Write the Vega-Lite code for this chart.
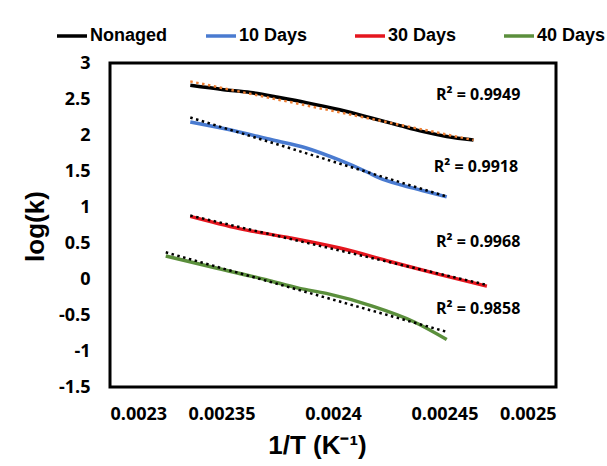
{
  "$schema": "https://vega.github.io/schema/vega-lite/v6.json",
  "width": 446,
  "height": 324,
  "autosize": {"type": "none"},
  "padding": {"left": 110, "top": 63, "right": 51, "bottom": 79},
  "background": "white",
  "config": {
    "view": {"stroke": "#000000", "strokeWidth": 3},
    "axis": {
      "grid": false,
      "ticks": false,
      "domain": false,
      "labelOverlap": false,
      "labelFont": "Open Sans",
      "labelFontWeight": "bold",
      "labelFontSize": 18,
      "labelColor": "#000000",
      "titleFont": "Liberation Sans",
      "titleFontWeight": "bold",
      "titleFontSize": 26,
      "titleColor": "#000000"
    }
  },
  "datasets": {
    "series": [
      {"series": "Nonaged", "x": 0.002336, "y": 2.69},
      {"series": "Nonaged", "x": 0.002351, "y": 2.63},
      {"series": "Nonaged", "x": 0.002363, "y": 2.59},
      {"series": "Nonaged", "x": 0.002376, "y": 2.52},
      {"series": "Nonaged", "x": 0.002388, "y": 2.45},
      {"series": "Nonaged", "x": 0.002403, "y": 2.35},
      {"series": "Nonaged", "x": 0.002418, "y": 2.23},
      {"series": "Nonaged", "x": 0.00243, "y": 2.13},
      {"series": "Nonaged", "x": 0.00244, "y": 2.05},
      {"series": "Nonaged", "x": 0.002451, "y": 1.98},
      {"series": "Nonaged", "x": 0.002463, "y": 1.93},
      {"series": "10 Days", "x": 0.002336, "y": 2.18},
      {"series": "10 Days", "x": 0.002351, "y": 2.09},
      {"series": "10 Days", "x": 0.002373, "y": 1.93},
      {"series": "10 Days", "x": 0.002388, "y": 1.82},
      {"series": "10 Days", "x": 0.002403, "y": 1.65},
      {"series": "10 Days", "x": 0.002415, "y": 1.49},
      {"series": "10 Days", "x": 0.002421, "y": 1.4},
      {"series": "10 Days", "x": 0.00243, "y": 1.31},
      {"series": "10 Days", "x": 0.00244, "y": 1.23},
      {"series": "10 Days", "x": 0.002451, "y": 1.14},
      {"series": "30 Days", "x": 0.002336, "y": 0.87},
      {"series": "30 Days", "x": 0.002358, "y": 0.7},
      {"series": "30 Days", "x": 0.002381, "y": 0.57},
      {"series": "30 Days", "x": 0.002403, "y": 0.43},
      {"series": "30 Days", "x": 0.002426, "y": 0.24},
      {"series": "30 Days", "x": 0.002448, "y": 0.06},
      {"series": "30 Days", "x": 0.002469, "y": -0.1},
      {"series": "40 Days", "x": 0.002325, "y": 0.32},
      {"series": "40 Days", "x": 0.002348, "y": 0.15},
      {"series": "40 Days", "x": 0.00237, "y": -0.01},
      {"series": "40 Days", "x": 0.002385, "y": -0.13},
      {"series": "40 Days", "x": 0.002397, "y": -0.2},
      {"series": "40 Days", "x": 0.002418, "y": -0.38},
      {"series": "40 Days", "x": 0.002436, "y": -0.59},
      {"series": "40 Days", "x": 0.002451, "y": -0.84}
    ],
    "labels": [
      {"label": "R² = 0.9949", "x": 0.002484, "y": 2.56},
      {"label": "R² = 0.9918", "x": 0.002483, "y": 1.56},
      {"label": "R² = 0.9968", "x": 0.002484, "y": 0.52},
      {"label": "R² = 0.9858", "x": 0.002484, "y": -0.42}
    ]
  },
  "layer": [
    {
      "data": {"name": "series"},
      "mark": {"type": "line", "strokeWidth": 3.5, "interpolate": "monotone"},
      "encoding": {
        "x": {
          "field": "x",
          "type": "quantitative",
          "scale": {"domain": [0.0023, 0.0025], "nice": false, "zero": false},
          "axis": {
            "values": [0.0023, 0.00235, 0.0024, 0.00245, 0.0025],
            "tickCount": 20,
            "labelExpr": "'' + datum.value",
            "labelOverlap": false,
            "labelPadding": 18,
            "title": "1/T (K⁻¹)",
            "titleX": 207,
            "titleY": 45,
            "titleBaseline": "top",
            "titleAnchor": "middle"
          }
        },
        "y": {
          "field": "y",
          "type": "quantitative",
          "scale": {"domain": [-1.5, 3], "nice": false, "zero": false},
          "axis": {
            "values": [-1.5, -1, -0.5, 0, 0.5, 1, 1.5, 2, 2.5, 3],
            "tickCount": 20,
            "labelExpr": "'' + datum.value",
            "labelOverlap": false,
            "labelPadding": 20,
            "title": "log(k)",
            "titleX": -75,
            "titleY": 163,
            "titleAngle": 270,
            "titleAlign": "center",
            "titleBaseline": "middle"
          }
        },
        "color": {
          "field": "series",
          "type": "nominal",
          "scale": {
            "domain": ["Nonaged", "10 Days", "30 Days", "40 Days"],
            "range": ["#000000", "#4A7BD0", "#E5161E", "#5B8F3C"]
          },
          "legend": {
            "orient": "none",
            "legendX": -55,
            "legendY": -44,
            "direction": "horizontal",
            "columns": 4,
            "gridAlign": "all",
            "columnPadding": 31,
            "padding": 0,
            "title": null,
            "symbolType": "stroke",
            "symbolSize": 900,
            "symbolStrokeWidth": 3.5,
            "labelOffset": 1,
            "labelFont": "Liberation Sans",
            "labelFontWeight": "bold",
            "labelFontSize": 18,
            "labelColor": "#000000"
          }
        }
      }
    },
    {
      "data": {"name": "series"},
      "transform": [{"regression": "y", "on": "x", "groupby": ["series"]}],
      "mark": {"type": "line", "strokeWidth": 2.5, "strokeDash": [2.5, 3.5]},
      "encoding": {
        "x": {"field": "x", "type": "quantitative"},
        "y": {"field": "y", "type": "quantitative"},
        "detail": {"field": "series", "type": "nominal"},
        "stroke": {
          "condition": {"test": "datum.series === 'Nonaged'", "value": "#ED7D31"},
          "value": "#000000"
        }
      }
    },
    {
      "data": {"name": "labels"},
      "mark": {"type": "text", "align": "right", "baseline": "middle", "font": "Open Sans", "fontWeight": "bold", "fontSize": 16, "color": "#000000"},
      "encoding": {
        "x": {"field": "x", "type": "quantitative"},
        "y": {"field": "y", "type": "quantitative"},
        "text": {"field": "label", "type": "nominal"}
      }
    }
  ]
}
